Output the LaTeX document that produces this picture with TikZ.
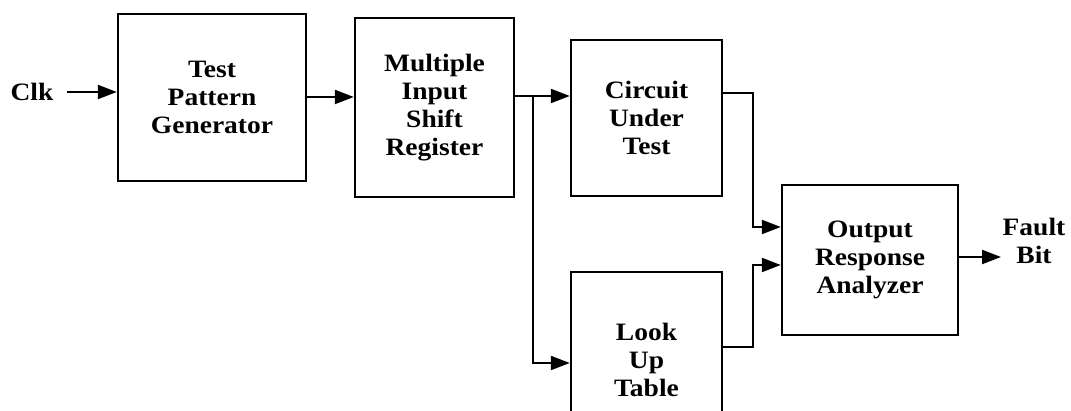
\documentclass[tikz,border=0pt]{standalone}
\usepackage{fontspec}
\setmainfont[FakeStretch=1.1]{Liberation Serif}
\usetikzlibrary{arrows.meta,positioning}
\begin{document}
\begin{tikzpicture}[x=1pt,y=1pt,
  blk/.style={draw,line width=2.4pt,minimum width=#1,inner sep=0pt,align=center,font=\bfseries\fontsize{25}{28}\selectfont},
  lbl/.style={inner sep=0pt,align=center,font=\bfseries\fontsize{25}{28}\selectfont},
  conn/.style={line width=2.2pt,-{Triangle[length=19pt,width=14pt]}},
  wire/.style={line width=2.2pt}]
\useasboundingbox (0,0) rectangle (1071,411);
\clip (0,0) rectangle (1071,411);
\node[blk=188pt,minimum height=167pt] (tpg) at (212,313.5) {Test\\Pattern\\Generator};
\node[blk=159pt,minimum height=179pt] (misr) at (434.5,303.5) {Multiple\\Input\\Shift\\Register};
\node[blk=151pt,minimum height=156pt] (cut) at (646.5,293) {Circuit\\Under\\Test};
\node[blk=151pt,minimum height=176pt] (lut) at (646.5,51) {Look\\Up\\Table};
\node[blk=176pt,minimum height=150pt] (ora) at (870,151) {Output\\Response\\Analyzer};
\node[lbl] (clk) at (32,319) {Clk};
\node[lbl] (fault) at (1034,170) {Fault\\Bit};
\coordinate (clkin) at (67,319);
\coordinate (br) at (533,315);
\coordinate (cutx) at (753,318);
\coordinate (lutx) at (753,64);
\coordinate (out) at (1001,154);
\draw[conn] (clkin) -- (clkin -| tpg.west);
\draw[conn] (tpg.east |- 0,314) -- (misr.west |- 0,314);
\draw[wire] (misr.east |- br) -- (br);
\draw[conn] (br) -- (cut.west |- br);
\draw[conn] (br) |- (lut.west |- 0,48);
\draw[conn] (cut.east |- cutx) -- (cutx) |- (ora.west |- 0,184);
\draw[conn] (lut.east |- lutx) -- (lutx) |- (ora.west |- 0,146);
\draw[conn] (ora.east |- out) -- (out);
\end{tikzpicture}
\end{document}
